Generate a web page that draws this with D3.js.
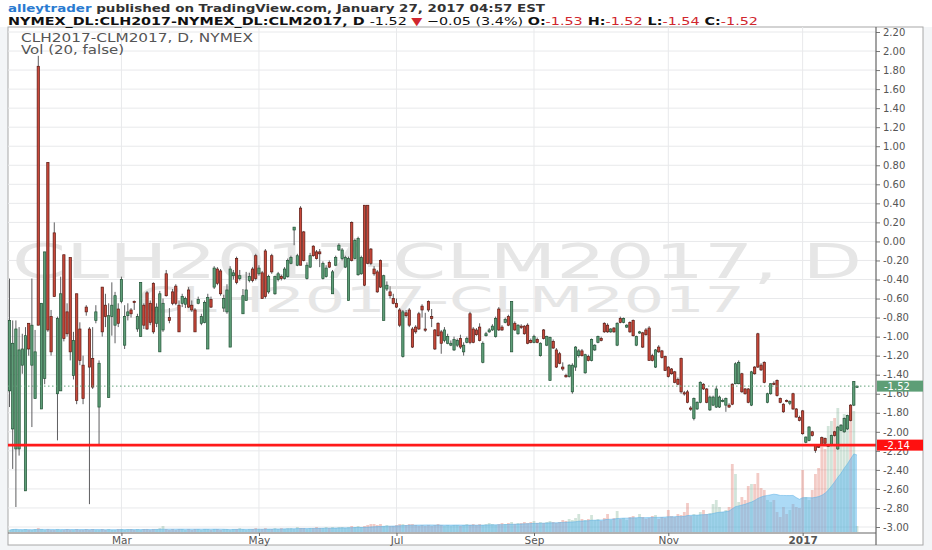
<!DOCTYPE html>
<html><head><meta charset="utf-8">
<script src="https://cdn.jsdelivr.net/npm/d3@7"></script>
<style>
html,body{margin:0;padding:0;background:#fff;}
svg{display:block;font-family:"DejaVu Sans",Verdana,sans-serif;}
</style></head><body>
<svg id="c" width="932" height="550"></svg>
<script>
// ---- DATA ----
const opens = [-1.57,-1.97,-2.18,-2.18,-1.30,-2.62,-0.86,-1.30,-1.65,1.84,-1.76,-1.44,0.83,-0.79,0.09,-1.60,-1.57,-0.14,-0.74,-0.17,
-1.41,-0.55,-0.92,-1.30,-0.69,-0.92,-1.23,-0.83,-1.74,-0.48,-0.67,-1.64,-0.79,-0.88,-0.71,-0.63,-1.09,-0.78,-0.72,-0.63,
-0.92,-1.00,-0.67,-0.54,-0.65,-0.44,-0.86,-1.16,-0.93,-0.34,-0.80,-0.53,-0.47,-0.67,-0.65,-0.66,-0.51,-0.67,-0.72,-0.65,
-0.86,-0.85,-1.13,-0.61,-0.48,-0.29,-0.31,-0.70,-0.74,-1.11,-0.36,-0.18,-0.39,-0.76,-0.62,-0.41,-0.29,-0.15,-0.34,-0.33,
-0.10,-0.53,-0.15,-0.55,-0.40,-0.37,-0.39,-0.37,-0.23,0.12,-0.25,0.35,0.10,-0.39,-0.27,-0.05,-0.11,-0.11,-0.39,-0.37,
-0.22,-0.55,-0.25,-0.09,-0.18,-0.27,-0.62,0.20,-0.18,-0.35,-0.34,0.38,0.38,-0.08,-0.29,-0.32,-0.20,-0.83,-0.50,-0.53,
-0.60,-0.65,-0.72,-1.21,-0.75,-0.72,-0.92,-0.90,-0.76,-0.68,-0.92,-0.63,-0.79,-0.93,-0.86,-0.95,-1.04,-1.07,-1.09,-1.14,
-1.09,-1.02,-1.16,-1.06,-0.76,-0.92,-0.93,-0.90,-1.27,-0.99,-0.95,-0.93,-1.00,-0.71,-0.90,-0.85,-0.79,-1.16,-0.86,-0.97,
-0.89,-0.89,-0.88,-1.04,-1.06,-1.03,-1.20,-0.93,-1.09,-1.46,-1.05,-1.14,-1.18,-1.32,-1.41,-1.42,-1.58,-1.32,-1.20,-1.15,
-1.38,-1.21,-1.25,-1.14,-1.06,-1.02,-0.86,-0.88,-0.95,-0.91,-1.09,-0.81,-0.85,-0.90,-0.85,-0.83,-1.09,-0.96,-0.96,-0.93,
-0.91,-1.20,-1.32,-1.11,-1.15,-1.21,-1.32,-1.34,-1.37,-1.45,-1.23,-1.59,-1.58,-1.75,-1.86,-1.76,-1.69,-1.50,-1.55,-1.77,
-1.72,-1.74,-1.74,-1.68,-1.72,-1.72,-1.50,-1.495,-1.495,-1.39,-1.55,-1.55,-1.72,-1.32,-0.97,-1.30,-1.27,-1.69,-1.60,-1.49,
-1.46,-1.65,-1.71,-1.67,-1.70,-1.60,-1.76,-1.85,-1.78,-2.11,-2.09,-2.00,-2.14,-2.15,-2.06,-2.07,-2.15,-2.14,-2.00,-2.18,
-1.985,-2.00,-1.97,-1.72,-1.72,-1.53];
const highs = [-0.39,-0.83,-0.83,-0.90,-0.97,-0.90,-0.86,-0.39,-0.93,1.95,-0.65,-0.11,0.83,-0.72,0.20,-0.79,-0.37,-0.14,-0.65,-0.17,
-0.95,-0.55,-0.85,-1.20,-0.67,-0.90,-0.90,-0.67,-1.25,-0.48,-0.55,-0.65,-0.43,-0.53,-0.65,-0.37,-0.67,-0.65,-0.70,-0.62,
-0.76,-0.43,-0.65,-0.52,-0.62,-0.43,-0.65,-0.52,-0.60,-0.30,-0.70,-0.50,-0.45,-0.62,-0.55,-0.58,-0.48,-0.62,-0.70,-0.58,
-0.76,-0.62,-0.55,-0.58,-0.26,-0.27,-0.29,-0.56,-0.45,-0.26,-0.30,-0.16,-0.30,-0.50,-0.32,-0.33,-0.27,-0.13,-0.25,-0.31,
-0.08,-0.35,-0.13,-0.36,-0.32,-0.35,-0.27,-0.18,-0.15,0.15,-0.13,0.37,0.11,-0.22,-0.12,-0.04,-0.09,-0.08,-0.21,-0.25,
-0.20,-0.30,-0.15,-0.02,-0.07,-0.15,-0.16,0.21,0.03,0.05,-0.15,0.38,0.38,-0.07,-0.26,-0.30,-0.19,-0.35,-0.42,-0.47,
-0.55,-0.60,-0.70,-0.72,-0.72,-0.70,-0.90,-0.88,-0.74,-0.66,-0.75,-0.62,-0.71,-0.92,-0.85,-0.93,-0.90,-0.97,-1.04,-1.00,
-1.02,-0.98,-1.06,-1.00,-0.74,-0.90,-0.91,-0.86,-1.05,-0.95,-0.91,-0.87,-0.79,-0.69,-0.88,-0.80,-0.77,-0.63,-0.84,-0.87,
-0.87,-0.88,-0.86,-1.02,-0.98,-1.01,-1.06,-0.92,-0.99,-1.00,-1.03,-1.12,-1.16,-1.27,-1.39,-1.29,-1.28,-1.10,-1.13,-1.13,
-1.18,-1.19,-1.02,-1.08,-0.99,-1.00,-0.85,-0.86,-0.91,-0.90,-0.85,-0.79,-0.80,-0.87,-0.84,-0.82,-0.99,-0.94,-0.95,-0.91,
-0.89,-1.18,-1.13,-1.09,-1.14,-1.20,-1.31,-1.33,-1.36,-1.43,-1.22,-1.57,-1.56,-1.73,-1.64,-1.68,-1.47,-1.49,-1.54,-1.62,
-1.62,-1.52,-1.62,-1.65,-1.64,-1.70,-1.49,-1.27,-1.25,-1.38,-1.54,-1.54,-1.36,-1.31,-0.96,-1.28,-1.26,-1.59,-1.49,-1.47,
-1.45,-1.64,-1.70,-1.66,-1.67,-1.59,-1.75,-1.83,-1.77,-2.05,-1.94,-1.99,-2.13,-2.13,-2.05,-2.06,-2.13,-2.03,-1.99,-1.94,
-1.92,-1.85,-1.82,-1.71,-1.47,-1.52];
const lows = [-1.74,-2.39,-2.79,-2.25,-1.39,-2.62,-1.20,-1.95,-1.65,-0.88,-1.76,-1.50,-0.95,-1.20,-0.58,-2.09,-1.57,-1.05,-1.00,-1.25,
-1.45,-1.71,-1.30,-1.71,-0.78,-2.76,-1.55,-0.86,-2.14,-1.00,-0.90,-1.64,-0.99,-1.07,-0.90,-0.65,-1.13,-0.83,-0.80,-0.72,
-0.95,-1.00,-0.92,-0.93,-0.88,-0.97,-0.90,-1.16,-0.95,-0.58,-0.86,-0.67,-0.67,-0.95,-0.69,-0.70,-0.70,-0.74,-0.95,-0.66,
-0.88,-0.86,-1.13,-0.70,-0.50,-0.46,-0.57,-0.74,-0.76,-1.11,-0.40,-0.45,-0.41,-0.76,-0.62,-0.43,-0.43,-0.41,-0.36,-0.60,
-0.60,-0.55,-0.34,-0.56,-0.42,-0.41,-0.40,-0.38,-0.24,-0.04,-0.26,-0.25,-0.21,-0.40,-0.28,-0.16,-0.19,-0.27,-0.40,-0.38,
-0.28,-0.55,-0.26,-0.10,-0.20,-0.28,-0.62,-0.21,-0.19,-0.36,-0.35,-0.47,-0.24,-0.25,-0.36,-0.54,-0.49,-0.83,-0.52,-0.60,
-0.66,-0.70,-0.90,-1.22,-0.80,-0.90,-1.12,-0.97,-0.93,-0.80,-0.95,-0.74,-0.90,-1.14,-1.00,-1.18,-1.06,-1.08,-1.10,-1.15,
-1.11,-1.13,-1.20,-1.07,-1.08,-1.07,-0.99,-1.05,-1.28,-1.00,-0.96,-0.94,-1.01,-0.94,-0.94,-0.86,-0.89,-1.16,-0.94,-0.98,
-0.92,-0.98,-1.08,-1.07,-1.07,-1.07,-1.21,-1.03,-1.10,-1.46,-1.13,-1.33,-1.29,-1.36,-1.43,-1.43,-1.60,-1.36,-1.22,-1.21,
-1.39,-1.26,-1.26,-1.15,-1.07,-1.05,-0.96,-0.96,-0.96,-0.96,-1.10,-0.86,-0.86,-0.91,-0.96,-1.00,-1.10,-0.97,-1.12,-0.99,
-1.25,-1.26,-1.33,-1.17,-1.23,-1.36,-1.43,-1.40,-1.49,-1.51,-1.60,-1.62,-1.70,-1.78,-1.88,-1.77,-1.70,-1.56,-1.70,-1.78,
-1.73,-1.75,-1.75,-1.69,-1.79,-1.75,-1.72,-1.50,-1.50,-1.59,-1.61,-1.70,-1.73,-1.40,-1.33,-1.36,-1.49,-1.70,-1.61,-1.51,
-1.63,-1.70,-1.80,-1.69,-1.72,-1.77,-1.85,-1.89,-2.03,-2.12,-2.10,-2.05,-2.22,-2.17,-2.15,-2.13,-2.16,-2.15,-2.05,-2.19,
-1.99,-2.01,-1.98,-1.89,-1.73,-1.54];
const closes = [-0.83,-1.07,-0.92,-1.14,-1.13,-0.99,-1.13,-0.88,-1.16,-0.88,-0.65,-0.11,-0.93,-1.16,-0.58,-0.81,-0.55,-1.02,-0.97,-1.16,
-1.04,-1.67,-1.25,-1.65,-0.74,-1.32,-1.53,-0.74,-1.28,-0.95,-0.79,-0.78,-0.67,-0.57,-0.86,-0.40,-0.79,-0.74,-0.76,-0.64,
-0.79,-0.43,-0.88,-0.92,-0.85,-0.95,-0.69,-0.55,-0.65,-0.57,-0.83,-0.65,-0.65,-0.95,-0.58,-0.60,-0.69,-0.72,-0.95,-0.61,
-0.79,-0.64,-0.59,-0.69,-0.28,-0.44,-0.55,-0.60,-0.51,-0.29,-0.33,-0.43,-0.36,-0.57,-0.51,-0.37,-0.41,-0.39,-0.28,-0.60,
-0.58,-0.37,-0.32,-0.37,-0.34,-0.39,-0.29,-0.20,-0.17,0.15,-0.15,-0.25,-0.20,-0.25,-0.15,-0.15,-0.18,-0.13,-0.23,-0.28,
-0.27,-0.32,-0.17,-0.04,-0.09,-0.17,-0.18,-0.20,0.01,0.03,-0.17,-0.46,-0.23,-0.23,-0.34,-0.53,-0.48,-0.36,-0.46,-0.57,
-0.65,-0.69,-0.88,-0.74,-0.78,-0.88,-1.11,-0.95,-0.92,-0.72,-0.93,-0.72,-0.81,-1.13,-0.99,-1.07,-0.93,-1.00,-1.07,-1.03,
-1.04,-1.11,-1.09,-1.02,-1.06,-1.06,-0.98,-1.04,-1.07,-0.97,-0.93,-0.89,-0.81,-0.93,-0.93,-0.82,-0.88,-0.63,-0.93,-0.88,
-0.90,-0.97,-1.07,-1.06,-1.00,-1.06,-1.07,-1.02,-1.00,-1.01,-1.12,-1.32,-1.28,-1.34,-1.42,-1.30,-1.30,-1.11,-1.15,-1.20,
-1.19,-1.25,-1.03,-1.09,-1.00,-1.04,-0.95,-0.95,-0.92,-0.95,-0.86,-0.85,-0.81,-0.88,-0.95,-0.99,-1.00,-0.95,-1.11,-0.98,
-1.25,-1.25,-1.14,-1.16,-1.22,-1.355,-1.42,-1.39,-1.48,-1.50,-1.58,-1.60,-1.69,-1.76,-1.65,-1.69,-1.48,-1.55,-1.69,-1.635,
-1.635,-1.55,-1.635,-1.67,-1.65,-1.74,-1.71,-1.285,-1.27,-1.58,-1.60,-1.69,-1.37,-1.39,-1.32,-1.35,-1.48,-1.60,-1.495,-1.50,
-1.62,-1.69,-1.79,-1.68,-1.68,-1.76,-1.845,-1.88,-2.02,-2.055,-1.95,-2.04,-2.195,-2.16,-2.14,-2.12,-2.14,-2.04,-2.04,-1.95,
-1.93,-1.86,-1.83,-1.88,-1.47,-1.52];
const volumes = [2,3,3,2,2,3,2,2,3,4,3,2,3,2,2,3,2,2,3,2,
2,3,2,2,3,2,3,2,2,3,2,3,2,2,3,3,2,3,3,2,
3,2,3,3,2,3,3,4,6,3,2,3,2,3,3,2,3,2,3,3,
2,3,3,2,3,3,2,3,3,2,3,3,4,3,2,3,3,4,3,3,
4,3,3,4,3,4,3,4,4,3,5,4,4,3,4,4,5,4,4,5,
4,5,4,5,5,4,5,6,5,6,5,6,7,8,8,7,8,6,7,6,
6,7,8,8,7,8,8,7,6,7,6,7,6,7,8,7,6,7,6,7,
7,6,7,8,7,8,7,8,7,8,9,8,7,8,9,8,9,10,8,9,
9,10,9,10,11,9,10,9,10,11,10,9,10,12,11,13,12,14,18,13,
12,13,17,12,13,11,14,18,12,14,21,13,14,12,15,16,14,18,15,13,
14,16,17,13,15,14,22,16,15,18,17,20,29,16,18,17,20,22,18,19,
28,32,25,20,22,25,68,58,30,35,32,46,48,48,59,44,42,32,30,32,
20,15,25,18,22,28,25,24,62,35,32,42,58,64,85,83,106,111,114,124,
101,118,110,119,121,6];
const monthTickIndex = [35,78,121,164,206,248];
const monthTickLabels = ["Mar","May","Jul","Sep","Nov","2017"];
const priceTicks = [2.2,2.0,1.8,1.6,1.4,1.2,1.0,0.8,0.6,0.4,0.2,0.0,-0.2,-0.4,-0.6,-0.8,-1.0,-1.2,-1.4,-1.6,-1.8,-2.0,-2.2,-2.4,-2.6,-2.8,-3.0];
const lastPrice = -1.52;
const levelPrice = -2.14;
const maLength = 20;

// ---- LAYOUT ----
const W = 932, H = 550;
const PL = 8, PR = 876, PT = 27, PB = 533, FR = 923, FB = 545;
const UP = "#5e9e78", DOWN = "#c8483a", UPB = "#225437", DOWNB = "#5b1a13", WICK = "#5e5e60";

const svg = d3.select("#c");
const x = d3.scaleLinear().domain([0, opens.length - 1]).range([9.5, 857]);
const y = d3.scaleLinear().domain([-3.0, 2.2]).range([527, 32]);
const yv = d3.scaleLinear().domain([0, 130]).range([532, 402]);
const fmt = d => (d < -1e-9 ? "-" : "") + Math.abs(d).toFixed(2);

svg.append("rect").attr("width", W).attr("height", H).attr("fill", "#f3f5f7");
svg.append("rect").attr("width", W).attr("height", PT).attr("fill", "#ffffff");
svg.append("rect").attr("x", PL).attr("y", PT).attr("width", FR - PL).attr("height", FB - PT)
  .attr("fill", "#fff").attr("stroke", "#a8a8a8").attr("stroke-width", 1);

// header
const h1 = svg.append("text").attr("x", 8).attr("y", 12).attr("font-size", 11).attr("font-weight", "bold")
  .attr("textLength", 537).attr("lengthAdjust", "spacingAndGlyphs");
h1.append("tspan").attr("fill", "#2a7bd1").text("alleytrader");
h1.append("tspan").attr("fill", "#333").text(" published on TradingView.com, January 27, 2017 04:57 EST");
const h2 = svg.append("text").attr("x", 8).attr("y", 24.5).attr("font-size", 11).attr("font-weight", "bold")
  .attr("textLength", 750).attr("lengthAdjust", "spacingAndGlyphs").attr("fill", "#111");
h2.append("tspan").text("NYMEX_DL:CLH2017-NYMEX_DL:CLM2017, D ");
h2.append("tspan").attr("font-weight", "normal").text(" " + fmt(lastPrice) + " ");
h2.append("tspan").attr("fill", "#d0262e").text("▼");
h2.append("tspan").attr("font-weight", "normal").text(" −0.05 (3.4%) ");
const ohlc = [["O:", -1.53], ["H:", -1.52], ["L:", -1.54], ["C:", -1.52]];
ohlc.forEach(([k, v], i) => {
  h2.append("tspan").text((i ? " " : "") + k);
  h2.append("tspan").attr("fill", "#d0262e").attr("font-weight", "normal").text(fmt(v));
});

const plot = svg.append("g");
plot.append("clipPath").attr("id", "clip").append("rect").attr("x", PL).attr("y", PT).attr("width", PR - PL).attr("height", PB - PT);
const pg = plot.append("g").attr("clip-path", "url(#clip)");

// grid
pg.selectAll("line.hg").data(priceTicks).join("line").attr("class", "hg")
  .attr("x1", PL).attr("x2", PR).attr("y1", d => y(d)).attr("y2", d => y(d)).attr("stroke", "#e8e9eb");
pg.selectAll("line.vg").data(monthTickIndex).join("line").attr("class", "vg")
  .attr("x1", d => x(d)).attr("x2", d => x(d)).attr("y1", PT).attr("y2", PB).attr("stroke", "#e8e9eb");

// watermark
pg.append("text").attr("x", 12).attr("y", 278).attr("font-size", 48).attr("fill", "#e6e6e6")
  .attr("textLength", 850).attr("lengthAdjust", "spacingAndGlyphs").text("CLH2017-CLM2017, D");
pg.append("text").attr("x", 137).attr("y", 312).attr("font-size", 35).attr("fill", "#e6e6e6")
  .attr("textLength", 608).attr("lengthAdjust", "spacingAndGlyphs").text("CLH2017-CLM2017");

// pane labels
svg.append("text").attr("x", 21).attr("y", 42).attr("font-size", 11.5).attr("fill", "#555")
  .attr("textLength", 232).attr("lengthAdjust", "spacingAndGlyphs").text("CLH2017-CLM2017, D, NYMEX");
svg.append("text").attr("x", 21).attr("y", 53.5).attr("font-size", 11.5).attr("fill", "#555")
  .attr("textLength", 103).attr("lengthAdjust", "spacingAndGlyphs").text("Vol (20, false)");

// volume
const idx = d3.range(opens.length);
const isUp = i => closes[i] >= opens[i];
pg.selectAll("rect.vol").data(idx).join("rect").attr("class", "vol")
  .attr("x", i => x(i) - 1.4).attr("width", 2.8)
  .attr("y", i => yv(volumes[i])).attr("height", i => yv(0) - yv(volumes[i]))
  .attr("fill", i => isUp(i) ? "#6ba583" : "#d75442").attr("opacity", 0.3);
const ma = idx.map(i => d3.mean(volumes.slice(Math.max(0, i - maLength + 1), i + 1)));
const area = d3.area().x(i => x(i)).y0(yv(0)).y1(i => yv(ma[i]));
pg.append("path").datum(idx).attr("d", area).attr("fill", "#5ab6ee").attr("opacity", 0.5);
pg.append("path").datum(idx).attr("d", d3.line().x(i => x(i)).y(i => yv(ma[i])))
  .attr("fill", "none").attr("stroke", "#5ab0e6").attr("stroke-width", 1).attr("opacity", 0.5);

// candles
pg.selectAll("line.wick").data(idx).join("line").attr("class", "wick")
  .attr("x1", i => x(i)).attr("x2", i => x(i)).attr("y1", i => y(highs[i])).attr("y2", i => y(lows[i]))
  .attr("stroke", WICK).attr("stroke-width", 1);
pg.selectAll("rect.body").data(idx).join("rect").attr("class", "body")
  .attr("x", i => x(i) - 1.15).attr("width", 2.3)
  .attr("y", i => y(Math.max(opens[i], closes[i])))
  .attr("height", i => Math.max(1.2, Math.abs(y(opens[i]) - y(closes[i]))))
  .attr("fill", i => isUp(i) ? UP : DOWN)
  .attr("stroke", i => isUp(i) ? UPB : DOWNB).attr("stroke-width", 0.7);

// level lines
pg.append("line").attr("x1", PL).attr("x2", PR).attr("y1", y(lastPrice)).attr("y2", y(lastPrice))
  .attr("stroke", "#5f9f78").attr("stroke-dasharray", "1.5,2.5");
pg.append("line").attr("x1", PL).attr("x2", PR).attr("y1", y(levelPrice)).attr("y2", y(levelPrice))
  .attr("stroke", "#ff1a1a").attr("stroke-width", 2.6);

// right axis
const ya = svg.append("g").attr("transform", `translate(${PR},0)`)
  .call(d3.axisRight(y).tickValues(priceTicks).tickFormat(fmt).tickSize(4).tickPadding(3));
ya.select(".domain").remove();
ya.selectAll("line").attr("stroke", "#777");
ya.selectAll("text").attr("fill", "#555").attr("font-size", 10).attr("font-family", "DejaVu Sans");
svg.append("line").attr("x1", PR).attr("x2", PR).attr("y1", PT).attr("y2", FB).attr("stroke", "#666").attr("stroke-width", 1.2);

// bottom axis
const xa = svg.append("g").attr("transform", `translate(0,${PB})`)
  .call(d3.axisBottom(x).tickValues(monthTickIndex).tickFormat((d, i) => monthTickLabels[i]).tickSize(3).tickPadding(1));
xa.select(".domain").remove();
xa.selectAll("line").attr("stroke", "#666");
xa.selectAll("text").attr("fill", "#555").attr("font-size", 10.5).attr("font-family", "DejaVu Sans")
  .attr("font-weight", (d, i) => monthTickLabels[i] === "2017" ? "bold" : "normal");
svg.append("line").attr("x1", PL).attr("x2", PR).attr("y1", PB).attr("y2", PB).attr("stroke", "#666").attr("stroke-width", 1.2);

// price label boxes
[[lastPrice, "#5d9e76"], [levelPrice, "#ff1010"]].forEach(([v, c]) => {
  svg.append("rect").attr("x", PR + 1).attr("y", y(v) - 5.5).attr("width", 46).attr("height", 11).attr("fill", c);
  svg.append("text").attr("x", PR + 8).attr("y", y(v) + 3.6).attr("font-size", 10).attr("fill", "#fff").text(fmt(v));
});
</script>
</body></html>
